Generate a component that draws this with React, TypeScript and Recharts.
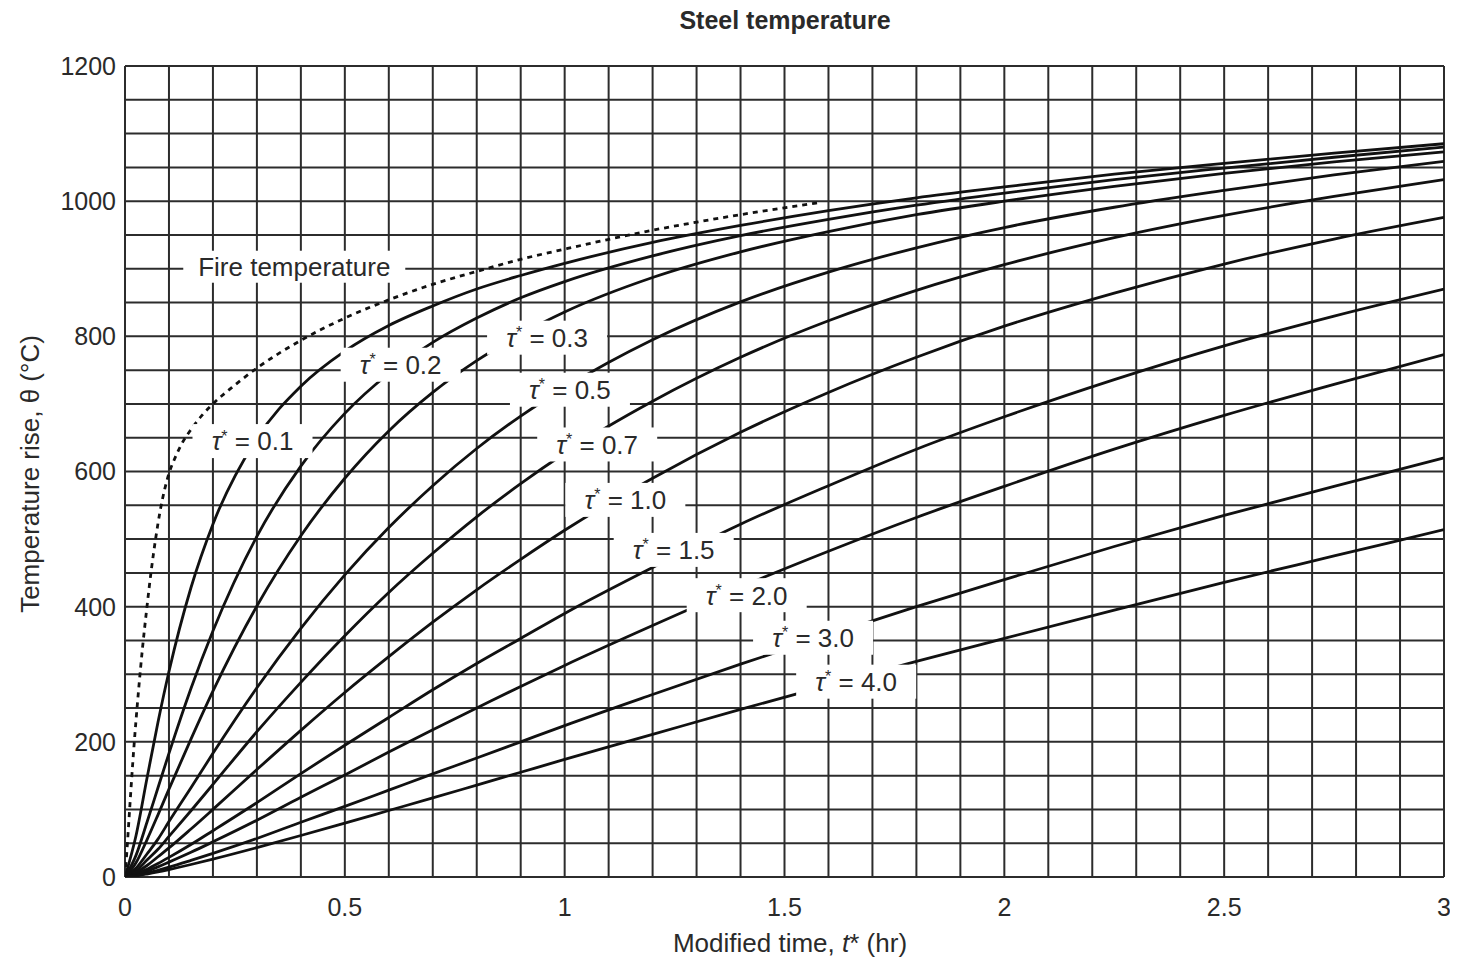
import React from 'react';
import { LineChart, Line, XAxis, YAxis, ReferenceLine, ReferenceDot } from 'recharts';

// Modified time t* (hr) at which steel curves were read
const timeHr = [0, 0.025, 0.05, 0.075, 0.1, 0.15, 0.2, 0.3, 0.4, 0.5, 0.6, 0.7, 0.8, 0.9, 1.0, 1.2, 1.4, 1.6, 1.8, 2.0, 2.25, 2.5, 2.75, 3.0];

// Steel temperature rise for each tau*
const steelTau01 = [0, 61, 146, 229, 304, 428, 522, 649, 726, 778, 816, 845, 870, 890, 908, 939, 964, 986, 1005, 1021, 1040, 1056, 1071, 1085];
const steelTau02 = [0, 32, 81, 132, 183, 279, 364, 504, 608, 686, 745, 791, 827, 857, 881, 919, 949, 973, 994, 1012, 1032, 1049, 1065, 1080];
const steelTau03 = [0, 21, 55, 92, 130, 204, 275, 401, 505, 590, 660, 717, 764, 803, 836, 887, 925, 955, 980, 1000, 1022, 1041, 1058, 1073];
const steelTau05 = [0, 13, 34, 56, 82, 132, 183, 280, 368, 447, 517, 579, 634, 682, 724, 795, 851, 895, 931, 961, 991, 1016, 1039, 1059];
const steelTau07 = [0, 9, 25, 41, 60, 98, 137, 215, 288, 357, 421, 479, 533, 582, 627, 704, 769, 823, 868, 906, 946, 979, 1007, 1032];
const steelTau10 = [0, 6.6, 17, 30, 43, 71, 100, 159, 217, 273, 326, 377, 425, 470, 513, 590, 658, 717, 769, 815, 864, 907, 944, 976];
const steelTau15 = [0, 4.4, 11.6, 20, 29, 48, 68.5, 110, 153, 195, 236, 277, 316, 353, 390, 458, 522, 579, 633, 681, 736, 786, 830, 870];
const steelTau20 = [0, 3.3, 8.7, 15, 22, 36.5, 52, 84, 118, 151, 185, 218, 250, 282, 313, 372, 429, 482, 532, 578, 633, 683, 729, 773];
const steelTau30 = [0, 2.2, 5.8, 10, 14.6, 24.6, 35, 57, 81, 104.5, 128.5, 152.5, 176, 200, 224, 270, 315, 358, 400, 440, 489, 535, 578, 620];
const steelTau40 = [0, 1.7, 4.4, 7.5, 11, 18.5, 26.5, 43.5, 61.4, 79.8, 98.4, 117, 136, 155, 174, 211, 248, 284, 319, 353, 395, 436, 475, 514];

// Fire temperature (dotted curve)
const fireTime = [0, 0.005, 0.01, 0.02, 0.03, 0.04, 0.05, 0.06, 0.07, 0.08, 0.09, 0.1, 0.115, 0.13, 0.15, 0.175, 0.2, 0.25, 0.3, 0.4, 0.5, 0.6, 0.7, 0.8, 0.9, 1.0, 1.2, 1.4, 1.58];
const fireTemp = [0, 45, 95, 190, 270, 340, 400, 455, 502, 542, 573, 597, 622, 642, 662, 683, 700, 728, 753, 794, 827, 854, 877, 896, 914, 929, 957, 980, 998];

// Axis ticks and grid
const xTicks = [0, 0.5, 1, 1.5, 2, 2.5, 3];
const yTicks = [0, 200, 400, 600, 800, 1000, 1200];
const gridX = [0, 0.1, 0.2, 0.3, 0.4, 0.5, 0.6, 0.7, 0.8, 0.9, 1.0, 1.1, 1.2, 1.3, 1.4, 1.5, 1.6, 1.7, 1.8, 1.9, 2.0, 2.1, 2.2, 2.3, 2.4, 2.5, 2.6, 2.7, 2.8, 2.9, 3.0];
const gridY = [0, 50, 100, 150, 200, 250, 300, 350, 400, 450, 500, 550, 600, 650, 700, 750, 800, 850, 900, 950, 1000, 1050, 1100, 1150, 1200];

// Curve labels
const tauNames = ['0.1', '0.2', '0.3', '0.5', '0.7', '1.0', '1.5', '2.0', '3.0', '4.0'];
const tauLabelX = [0.29, 0.627, 0.96, 1.012, 1.074, 1.138, 1.248, 1.414, 1.565, 1.663];
const tauLabelY = [645, 758, 798, 721, 640, 558, 484, 417, 354, 289];
const fireLabelX = 0.385;
const fireLabelY = 903;

const steelSeries = [steelTau01, steelTau02, steelTau03, steelTau05, steelTau07, steelTau10, steelTau15, steelTau20, steelTau30, steelTau40];
const steelKeys = ['t01', 't02', 't03', 't05', 't07', 't10', 't15', 't20', 't30', 't40'];

const steelRows = timeHr.map((x, i) => {
  const row: Record<string, number> = { x };
  steelKeys.forEach((k, j) => {
    row[k] = steelSeries[j][i];
  });
  return row;
});

const fireRows = fireTime.map((x, i) => ({ x, fire: fireTemp[i] }));

const FONT = '"Liberation Sans", Arial, Helvetica, sans-serif';
const TEXT = '#2a2a2a';
const GRID = '#2c2c2c';

const TauLabel = ({ cx, cy, name }: { cx: number; cy: number; name: string }) => (
  <g>
    <rect x={cx - 60} y={cy - 17} width={120} height={34} fill="#ffffff" />
    <text x={cx} y={cy} dy="0.36em" textAnchor="middle" fontSize={26} fontFamily={FONT} fill={TEXT}>
      <tspan fontStyle="italic">τ</tspan>
      <tspan fontSize={16} dy="-0.55em">*</tspan>
      <tspan dy="0.34em">{` = ${name}`}</tspan>
    </text>
  </g>
);

const FireLabel = ({ cx, cy }: { cx: number; cy: number }) => (
  <g>
    <rect x={cx - 111} y={cy - 16} width={222} height={32} fill="#ffffff" />
    <text x={cx} y={cy} dy="0.36em" textAnchor="middle" fontSize={26} fontFamily={FONT} fill={TEXT}>
      Fire temperature
    </text>
  </g>
);

export default function App() {
  return (
    <div style={{ position: 'relative', width: 1450, height: 950, background: '#fff' }}>
      <LineChart
        width={1450}
        height={950}
        data={steelRows}
        margin={{ top: 58, right: 14, bottom: 51, left: 57 }}
      >
        <XAxis
          dataKey="x"
          type="number"
          domain={[0, 3]}
          ticks={xTicks}
          axisLine={false}
          tickLine={false}
          tickMargin={15}
          height={30}
          allowDataOverflow
          tick={{ fontSize: 25, fill: TEXT, fontFamily: FONT }}
        />
        <YAxis
          type="number"
          domain={[0, 1200]}
          ticks={yTicks}
          axisLine={false}
          tickLine={false}
          tickMargin={3}
          width={60}
          allowDataOverflow
          tick={{ fontSize: 25, fill: TEXT, fontFamily: FONT }}
        />
        {gridX.map((v) => (
          <ReferenceLine key={`gx${v}`} x={v} stroke={GRID} strokeWidth={2} zIndex={-50} />
        ))}
        {gridY.map((v) => (
          <ReferenceLine key={`gy${v}`} y={v} stroke={GRID} strokeWidth={2} zIndex={-50} />
        ))}
        {steelKeys.map((k) => (
          <Line
            key={k}
            dataKey={k}
            type="monotone"
            stroke="#111111"
            strokeWidth={2.8}
            dot={false}
            activeDot={false}
            isAnimationActive={false}
          />
        ))}
        <Line
          data={fireRows}
          dataKey="fire"
          type="monotone"
          stroke="#111111"
          strokeWidth={2.8}
          strokeDasharray="5 5"
          dot={false}
          activeDot={false}
          isAnimationActive={false}
        />
        <ReferenceDot
          x={fireLabelX}
          y={fireLabelY}
          r={1}
          zIndex={2000}
          shape={(p: any) => <FireLabel cx={p.cx} cy={p.cy} />}
        />
        {tauNames.map((n, i) => (
          <ReferenceDot
            key={`lbl${n}`}
            x={tauLabelX[i]}
            y={tauLabelY[i]}
            r={1}
            zIndex={2000}
            shape={(p: any) => <TauLabel cx={p.cx} cy={p.cy} name={n} />}
          />
        ))}
      </LineChart>
      <div
        style={{
          position: 'absolute',
          left: 777,
          top: 12,
          transform: 'translate(-50%, -50%)',
          fontFamily: FONT,
          fontWeight: 'bold',
          fontSize: 25,
          color: TEXT,
          whiteSpace: 'nowrap',
        }}
      >
        Steel temperature
      </div>
      <div
        style={{
          position: 'absolute',
          left: 22,
          top: 466,
          transform: 'translate(-50%, -50%) rotate(-90deg)',
          fontFamily: FONT,
          fontSize: 26,
          color: TEXT,
          whiteSpace: 'nowrap',
        }}
      >
        Temperature rise, θ (°C)
      </div>
      <div
        style={{
          position: 'absolute',
          left: 782,
          top: 935,
          transform: 'translate(-50%, -50%)',
          fontFamily: FONT,
          fontSize: 26,
          color: TEXT,
          whiteSpace: 'nowrap',
        }}
      >
        Modified time, <i>t</i>* (hr)
      </div>
    </div>
  );
}
